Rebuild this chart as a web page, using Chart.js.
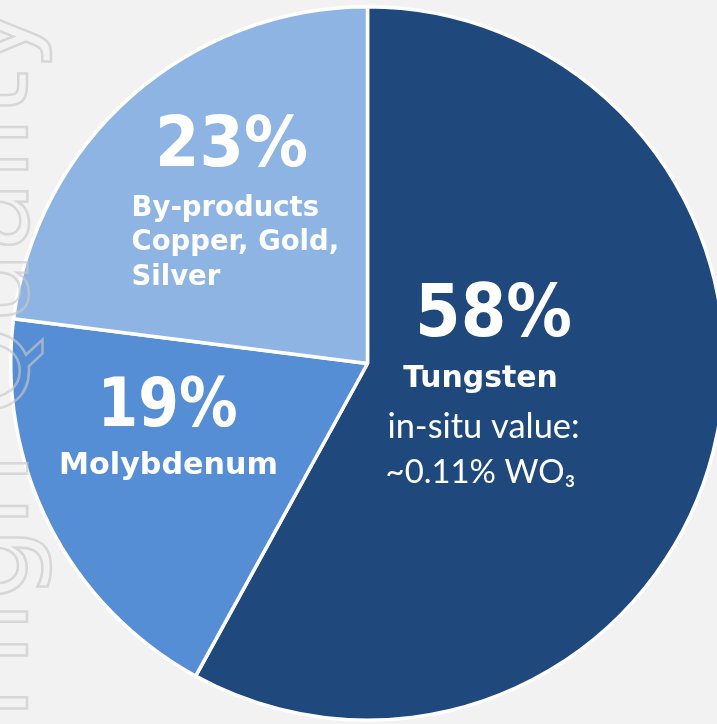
<!DOCTYPE html>
<html>
<head>
<meta charset="utf-8">
<script src="https://cdn.jsdelivr.net/npm/chart.js@4.4.1/dist/chart.umd.min.js"></script>
<style>
  html, body { margin: 0; padding: 0; background: #F2F2F2; overflow: hidden; width: 717px; height: 724px; }
  #wrap { position: absolute; left: 0; top: 0; width: 734px; height: 726px; }
</style>
</head>
<body>
<div id="wrap"><canvas id="c" width="734" height="726"></canvas></div>
<script>
// ---- data ----
const categories = ["Tungsten", "Molybdenum", "By-products"];
const shares = [58, 19, 23];
const percentLabels = ["58%", "19%", "23%"];
const subLabels = [
  ["Tungsten"],
  ["Molybdenum"],
  ["By-products", "Copper, Gold,", "Silver"]
];
const noteLines = ["in-situ value:", "~0.11% WO\u2083"];
const sliceColors = ["#1F497D", "#558ED5", "#8EB4E3"];
const watermarkText = "High Quality";

// fit a font size so text spans a target width
function fitFont(ctx, text, weight, family, target) {
  ctx.font = weight + " 100px " + family;
  const w = ctx.measureText(text).width;
  return Math.round(100 * target / w * 10) / 10;
}

const labelPlugin = {
  id: 'labels',
  afterDatasetsDraw(chart) {
    const ctx = chart.ctx;
    const arc = chart.getDatasetMeta(0).data[0];
    const cx = arc.x, cy = arc.y;
    const bold = '"DejaVu Sans"';
    const reg = 'Lato, "Open Sans", sans-serif';
    ctx.save();
    ctx.fillStyle = '#FFFFFF';
    ctx.textBaseline = 'alphabetic';

    function put(text, dx, dy, weight, family, targetW, stretch) {
      const size = fitFont(ctx, text, weight, family, targetW);
      ctx.save();
      ctx.font = weight + ' ' + size + 'px ' + family;
      ctx.textAlign = 'center';
      ctx.translate(cx + dx, cy + dy);
      ctx.scale(1, stretch || 1);
      ctx.fillText(text, 0, 0);
      ctx.restore();
    }
    // Tungsten
    put(percentLabels[0], 126, -28, 'bold', bold, 157, 1.1);
    put(subLabels[0][0], 113, 23, 'bold', bold, 155);
    put(noteLines[0], 116, 74, 'normal', reg, 192);
    put(noteLines[1], 113, 119, 'normal', reg, 190);
    // Molybdenum
    put(percentLabels[1], -200, 62, 'bold', bold, 140, 1.15);
    put(subLabels[1][0], -199, 110, 'bold', bold, 219);
    // By-products
    put(percentLabels[2], -136, -198, 'bold', bold, 153, 1.1);
    ctx.font = 'bold 27.5px ' + bold;
    ctx.textAlign = 'left';
    ctx.fillText(subLabels[2][0], cx - 236, cy - 148);
    ctx.fillText(subLabels[2][1], cx - 236, cy - 114);
    ctx.fillText(subLabels[2][2], cx - 236, cy - 79);

    // watermark outline text
    ctx.translate(27, 2);
    ctx.rotate(-Math.PI / 2);
    ctx.font = 'normal 116px "DejaVu Sans"';
    ctx.textAlign = 'right';
    ctx.lineWidth = 2.5;
    ctx.strokeStyle = 'rgba(200,200,200,0.65)';
    ctx.strokeText(watermarkText, 0, 0);
    ctx.restore();
  }
};

new Chart(document.getElementById('c'), {
  type: 'pie',
  data: {
    labels: categories,
    datasets: [{
      data: shares,
      backgroundColor: sliceColors,
      borderColor: '#FFFFFF',
      borderWidth: 3.5,
      hoverOffset: 0
    }]
  },
  options: {
    responsive: false,
    animation: false,
    events: [],
    layout: { padding: { top: 5, bottom: 4, left: 5, right: 4 } },
    plugins: { legend: { display: false }, tooltip: { enabled: false } }
  },
  plugins: [labelPlugin]
});
</script>
</body>
</html>
